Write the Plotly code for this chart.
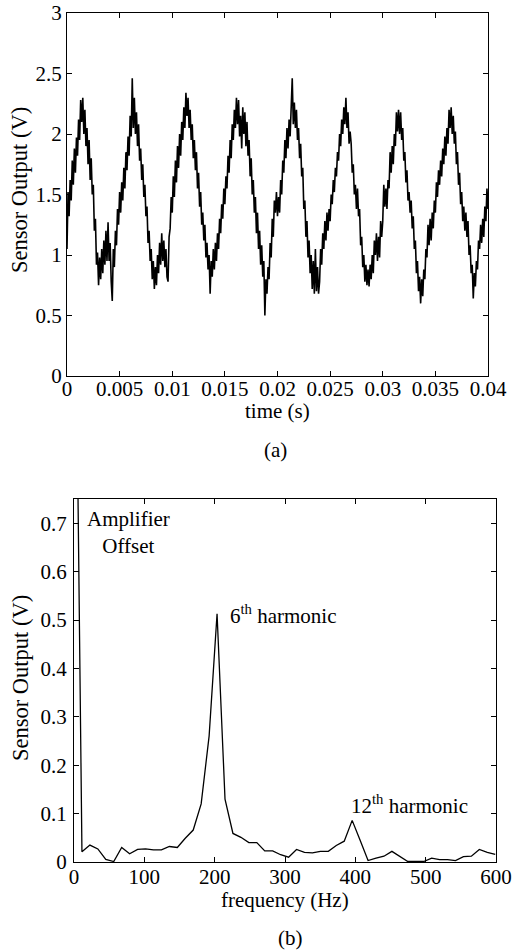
import numpy as np
import plotly.graph_objects as go

# ---------------- data ----------------
# (a) sensor output vs time, sampled every 0.1 ms from 0 to 40 ms
sample_dt = 0.0001
sensor_v = [
    1.05, 1.52, 1.32, 1.62, 1.45, 1.78, 1.58, 1.88, 1.68, 1.97,
    1.82, 2.12, 1.95, 2.28, 2.10, 2.30, 2.00, 2.20, 1.90, 2.05,
    1.75, 1.95, 1.62, 1.80, 1.50, 1.58, 1.20, 1.30, 0.92, 1.02,
    0.75, 0.98, 0.80, 1.05, 0.85, 1.12, 0.92, 1.20, 0.95, 1.27,
    0.95, 1.10, 0.78, 0.62, 1.05, 0.90, 1.20, 1.08, 1.38, 1.25,
    1.52, 1.35, 1.60, 1.45, 1.72, 1.55, 1.85, 1.70, 1.98, 1.82,
    2.15, 1.98, 2.46, 2.05, 2.30, 2.00, 2.18, 1.90, 2.08, 1.78,
    1.88, 1.62, 1.75, 1.48, 1.58, 1.32, 1.40, 1.10, 1.20, 0.95,
    1.05, 0.80, 0.95, 0.72, 0.90, 0.75, 1.00, 0.85, 1.10, 0.92,
    1.18, 0.95, 1.12, 0.90, 1.05, 0.82, 0.78, 1.15, 1.22, 1.48,
    1.35, 1.65, 1.48, 1.78, 1.60, 1.90, 1.72, 2.00, 1.82, 2.10,
    1.95, 2.22, 2.05, 2.34, 2.15, 2.30, 2.05, 2.20, 1.95, 2.08,
    1.80, 1.95, 1.70, 1.85, 1.55, 1.68, 1.40, 1.52, 1.25, 1.35,
    1.12, 1.25, 0.98, 1.10, 0.88, 1.00, 0.68, 0.95, 0.82, 1.05,
    0.88, 1.10, 0.95, 1.18, 1.05, 1.30, 1.18, 1.42, 1.30, 1.55,
    1.42, 1.65, 1.55, 1.82, 1.68, 1.95, 1.80, 2.08, 1.95, 2.20,
    2.05, 2.30, 2.08, 2.28, 1.98, 2.15, 1.88, 2.22, 2.00, 2.18,
    1.90, 2.10, 1.82, 1.95, 1.65, 1.80, 1.50, 1.62, 1.35, 1.48,
    1.18, 1.35, 1.05, 1.20, 0.92, 1.08, 0.82, 0.95, 0.50, 0.80,
    0.68, 0.90, 0.80, 1.10, 0.98, 1.30, 1.15, 1.45, 1.35, 1.52,
    1.32, 1.48, 1.35, 1.62, 1.50, 1.78, 1.68, 1.95, 1.80, 2.05,
    1.88, 2.12, 1.98, 2.20, 2.46, 2.08, 2.26, 2.05, 2.20, 1.95,
    2.05, 1.80, 1.92, 1.65, 1.72, 1.38, 1.45, 1.15, 1.28, 0.98,
    1.12, 0.85, 1.00, 0.72, 0.95, 0.68, 1.05, 0.70, 0.90, 0.68,
    0.78, 1.05, 0.92, 1.18, 1.05, 1.28, 1.12, 1.35, 1.20, 1.38,
    1.28, 1.50, 1.42, 1.62, 1.52, 1.72, 1.65, 1.85, 1.78, 2.00,
    1.90, 2.12, 2.00, 2.22, 2.08, 2.30, 2.05, 2.18, 1.92, 2.02,
    1.92, 1.68, 1.75, 1.50, 1.58, 1.38, 1.55, 1.32, 1.38, 1.08,
    1.15, 0.90, 1.00, 0.78, 0.92, 0.75, 0.88, 0.74, 0.92, 0.80,
    1.00, 0.85, 1.12, 1.00, 1.18, 0.95, 1.15, 0.98, 1.28, 1.15,
    1.28, 1.58, 1.40, 1.55, 1.38, 1.62, 1.55, 1.85, 1.68, 1.90,
    1.75, 2.00, 1.90, 2.18, 2.02, 2.20, 2.00, 2.18, 1.95, 2.05,
    1.78, 1.85, 1.60, 1.70, 1.45, 1.52, 1.35, 1.45, 1.22, 1.32,
    1.05, 1.12, 0.85, 0.95, 0.70, 0.82, 0.60, 0.80, 0.66, 0.88,
    0.80, 1.05, 0.98, 1.25, 1.08, 1.30, 1.12, 1.35, 1.22, 1.45,
    1.35, 1.60, 1.48, 1.70, 1.58, 1.78, 1.65, 1.88, 1.75, 1.98,
    1.82, 2.05, 1.92, 2.20, 2.05, 2.22, 2.00, 2.15, 1.92, 2.02,
    1.75, 1.85, 1.58, 1.68, 1.42, 1.52, 1.28, 1.40, 1.20, 1.35,
    1.15, 1.28, 1.00, 1.08, 0.85, 0.92, 0.64, 0.85, 0.74, 0.95,
    0.88, 1.12, 1.05, 1.25, 1.10, 1.30, 1.15, 1.40, 1.28, 1.55,
    1.38,
]
time_s = np.round(np.arange(len(sensor_v)) * sample_dt, 6)

# (b) spectrum
freq_hz = [0, 11.3, 22.6, 33.9, 45.2, 56.5, 67.8, 79.1, 90.4, 101.7,
           113.0, 124.3, 135.6, 146.9, 158.2, 169.5, 180.8, 192.1, 203.4, 214.7,
           226.0, 237.3, 248.6, 259.9, 271.2, 282.5, 293.8, 305.1, 316.4, 327.7,
           339.0, 350.3, 361.6, 372.9, 384.2, 395.5, 406.8, 418.1, 429.4, 440.7,
           452.0, 463.3, 474.6, 485.9, 497.2, 508.5, 519.8, 531.1, 542.4, 553.7,
           565.0, 576.3, 587.6, 598.9]
amp_v = [1.50, 0.021, 0.035, 0.027, 0.0055, 0.001, 0.030, 0.017, 0.026, 0.027,
         0.025, 0.025, 0.032, 0.030, 0.049, 0.066, 0.120, 0.260, 0.513, 0.130,
         0.059, 0.051, 0.040, 0.040, 0.023, 0.023, 0.015, 0.010, 0.026, 0.020,
         0.019, 0.022, 0.022, 0.034, 0.043, 0.086, 0.045, 0.003, 0.008, 0.012,
         0.022, 0.011, 0.001, 0.001, 0.001, 0.008, 0.005, 0.005, 0.003, 0.011,
         0.012, 0.026, 0.020, 0.016]

# tick labels
t_tickvals = [0, 0.005, 0.01, 0.015, 0.02, 0.025, 0.03, 0.035, 0.04]
t_ticktext = ["0", "0.005", "0.01", "0.015", "0.02", "0.025", "0.03", "0.035", "0.04"]
v_tickvals = [0, 0.5, 1, 1.5, 2, 2.5, 3]
v_ticktext = ["0", "0.5", "1", "1.5", "2", "2.5", "3"]
f_tickvals = [0, 100, 200, 300, 400, 500, 600]
f_ticktext = ["0", "100", "200", "300", "400", "500", "600"]
a_tickvals = [0, 0.1, 0.2, 0.3, 0.4, 0.5, 0.6, 0.7]
a_ticktext = ["0", "0.1", "0.2", "0.3", "0.4", "0.5", "0.6", "0.7"]

# ---------------- figure ----------------
W, H = 513, 950
FONT = "Liberation Serif, Times New Roman, serif"
FS = 21

fig = go.Figure()
fig.add_trace(go.Scatter(x=time_s, y=sensor_v, mode="lines",
                         line=dict(color="black", width=1.6),
                         xaxis="x", yaxis="y", showlegend=False))
fig.add_trace(go.Scatter(x=freq_hz, y=amp_v, mode="lines",
                         line=dict(color="black", width=1.3),
                         xaxis="x2", yaxis="y2", showlegend=False))

def px_x(p):
    return p / W

def px_y(p):
    return 1 - p / H

axis_common = dict(showgrid=False, zeroline=False, showline=True, linecolor="black",
                   linewidth=1, mirror="ticks", ticks="inside", ticklen=5,
                   tickcolor="black", automargin=False,
                   tickfont=dict(family=FONT, size=FS, color="black"))

fig.update_layout(
    width=W, height=H,
    margin=dict(l=0, r=0, t=0, b=0, pad=0, autoexpand=False),
    paper_bgcolor="white", plot_bgcolor="white",
    font=dict(family=FONT, size=FS, color="black"),
    xaxis=dict(domain=[px_x(67), px_x(488)], range=[0, 0.04], anchor="y",
               tickvals=t_tickvals, ticktext=t_ticktext, ticklabelstandoff=-6,
               **axis_common),
    yaxis=dict(domain=[px_y(376), px_y(13)], range=[0, 3], anchor="x",
               tickvals=v_tickvals, ticktext=v_ticktext, **axis_common),
    xaxis2=dict(domain=[px_x(74), px_x(496)], range=[0, 600], anchor="y2",
                tickvals=f_tickvals, ticktext=f_ticktext, ticklabelstandoff=-4,
                **axis_common),
    yaxis2=dict(domain=[px_y(862), px_y(499)], range=[0, 0.75], anchor="x2",
                tickvals=a_tickvals, ticktext=a_ticktext, ticklabelstandoff=2,
                **axis_common),
)

def paper_text(text, x, y, size=FS, angle=0, xanchor="center"):
    fig.add_annotation(text=text, xref="paper", yref="paper", x=px_x(x), y=px_y(y),
                       showarrow=False, textangle=angle, xanchor=xanchor, yanchor="middle",
                       font=dict(family=FONT, size=size, color="black"))

paper_text("Sensor Output (V)", 20, 190, size=22.5, angle=-90)
paper_text("time (s)", 277, 411)
paper_text("(a)", 275, 450)
paper_text("Sensor Output (V)", 20, 678, size=22.5, angle=-90)
paper_text("frequency (Hz)", 285, 900)
paper_text("(b)", 290, 938)

fig.add_annotation(text="Amplifier<br>Offset", xref="x2", yref="y2",
                   x=(128 - 74) / 0.7033, y=(862 - 532) / 484, showarrow=False,
                   xanchor="center", yanchor="middle", align="center",
                   font=dict(family=FONT, size=FS, color="black"))
fig.add_annotation(text="6<sup>th</sup> harmonic", xref="x2", yref="y2",
                   x=219, y=0.512, showarrow=False, xanchor="left", yanchor="middle",
                   font=dict(family=FONT, size=FS, color="black"))
fig.add_annotation(text="12<sup>th</sup> harmonic", xref="x2", yref="y2",
                   x=391, y=0.118, showarrow=False, xanchor="left", yanchor="middle",
                   font=dict(family=FONT, size=FS, color="black"))

fig.write_html("out.html", config={"displayModeBar": False},
               post_script="document.body.style.margin='0';document.body.style.overflow='hidden';")
